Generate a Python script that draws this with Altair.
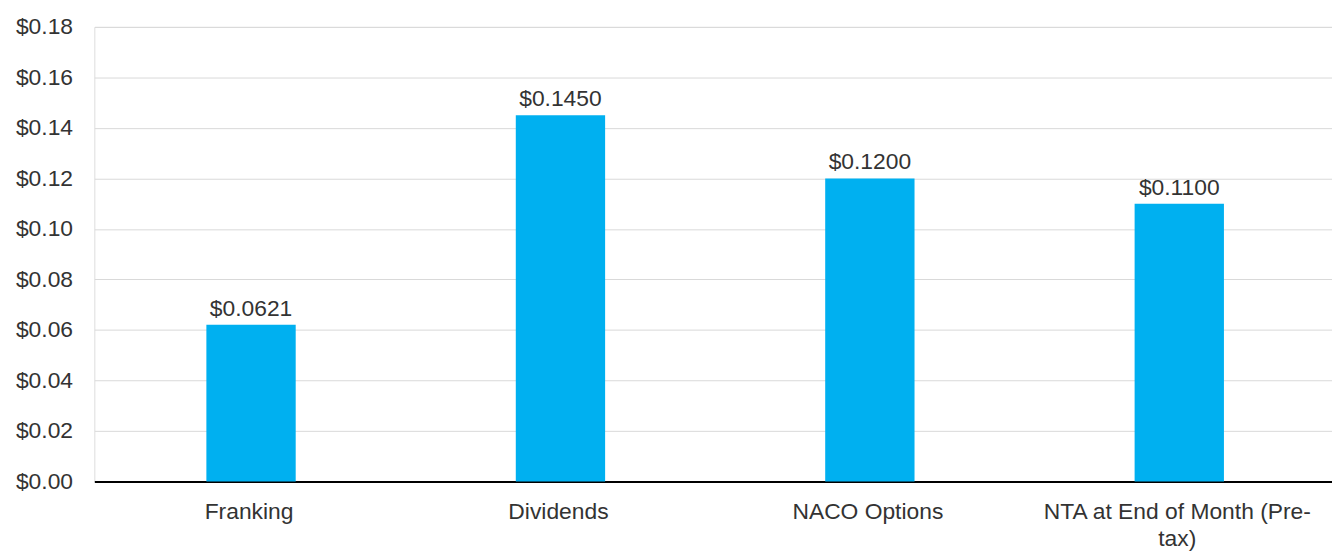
import altair as alt
import pandas as pd

categories = ["Franking", "Dividends", "NACO Options", "NTA at End of Month (Pre-tax)"]
values = [0.0621, 0.1450, 0.1200, 0.1100]
y_ticks = [0.00, 0.02, 0.04, 0.06, 0.08, 0.10, 0.12, 0.14, 0.16, 0.18]

df = pd.DataFrame({"category": categories, "value": values})

FONT = "Liberation Sans"
TXT = "#333333"
FS = 23

x_enc = alt.X(
    "category:N",
    sort=categories,
    title=None,
    scale=alt.Scale(paddingInner=0, paddingOuter=0),
    axis=alt.Axis(
        labelAngle=0,
        labelFont=FONT,
        labelFontSize=FS,
        labelColor=TXT,
        labelPadding=19,
        labelLineHeight=28,
        labelLimit=400,
        ticks=False,
        domainColor="#000000",
        domainWidth=2,
        grid=False,
        labelExpr="datum.label == 'NTA at End of Month (Pre-tax)' ? ['NTA at End of Month (Pre-', 'tax)'] : datum.label",
    ),
)

y_enc = alt.Y(
    "value:Q",
    title=None,
    scale=alt.Scale(domain=[0, 0.18], nice=False),
    axis=alt.Axis(
        values=y_ticks,
        format="$.2f",
        labelFont=FONT,
        labelFontSize=FS,
        labelColor=TXT,
        labelPadding=22,
        ticks=False,
        domain=False,
        gridColor="#d9d9d9",
        gridWidth=1,
    ),
)

bars = alt.Chart(df).mark_bar(color="#00B0F0", width=90, xOffset=2).encode(x=x_enc, y=y_enc)

labels = alt.Chart(df).mark_text(
    baseline="bottom", dy=-4, dx=2, font=FONT, fontSize=FS, color=TXT
).encode(
    x=alt.X("category:N", sort=categories),
    y="value:Q",
    text=alt.Text("value:Q", format="$.4f"),
)

chart = (
    alt.layer(bars, labels)
    .properties(
        width=1247,
        height=458,
        autosize=alt.AutoSizeParams(type="none"),
        padding={"left": 87, "top": 17, "right": 0, "bottom": 68},
    )
    .configure_view(stroke=None)
    .configure(background="#ffffff")
)

chart.save("out.html", embed_options={"renderer": "svg", "actions": False})
